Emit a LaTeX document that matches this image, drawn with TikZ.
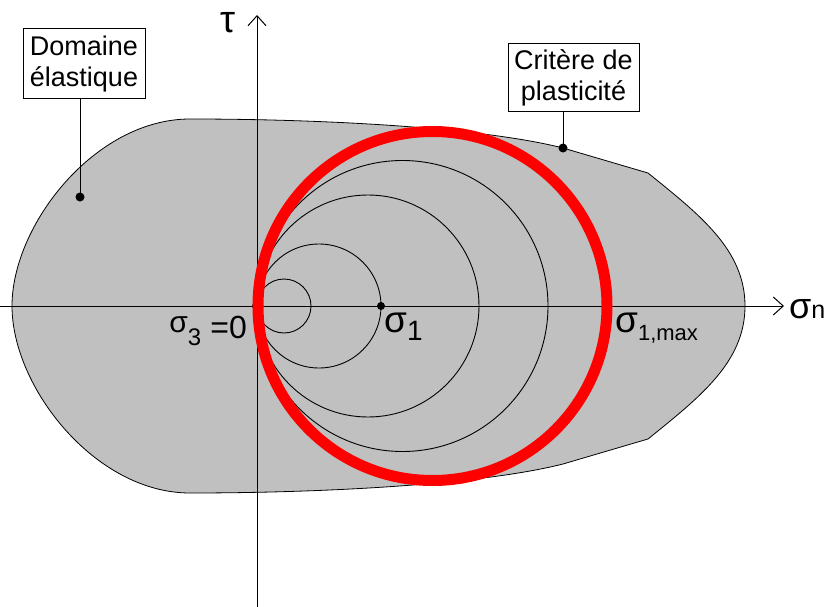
\documentclass[tikz,border=0pt]{standalone}
\usepackage{fontspec}
\setmainfont{Liberation Sans}
\usetikzlibrary{arrows.meta}
\newcommand\myfs[1]{\fontsize{#1}{#1}\selectfont}
\newcommand\sgm[1]{{\myfs{#1}σ}}
\definecolor{zonegray}{RGB}{192,192,192}
\definecolor{critred}{RGB}{255,0,0}
\begin{document}
\begin{tikzpicture}[x=1pt,y=-1pt,
  axis/.style={line width=1pt,-{Straight Barb[length=10pt,width=18pt,line width=1pt]}},
  mohr/.style={line width=0.9pt,black},
  callout/.style={draw,line width=1pt,fill=white,minimum width=122pt,minimum height=70pt,align=center,inner sep=0pt,font=\fontsize{27}{31}\selectfont},
  lab/.style={inner sep=0pt,font=\myfs{29}},
  leader/.style={line width=1pt},
  dotmark/.style={fill=black}]
\useasboundingbox (0,0) rectangle (827,607);
% elastic domain
\filldraw[fill=zonegray,draw=black,line width=0.8pt]
  (12,306) .. controls (12,225) and (95,119) .. (190,119)
  .. controls (320,119) and (480,127) .. (563,148)
  -- (648,173)
  .. controls (700,215) and (745,250) .. (745,306)
  .. controls (745,362) and (700,397) .. (648,439)
  -- (563,464)
  .. controls (480,485) and (320,493) .. (190,493)
  .. controls (95,493) and (12,387) .. (12,306) -- cycle;
% axes
\coordinate (xs) at (0,306);
\coordinate (xe) at (784,306);
\coordinate (ys) at (257,607);
\coordinate (ye) at (257,15);
\coordinate (O) at (257,306);
\draw[axis] (xs) -- (xe);
\draw[axis] (ys) -- (ye);
% Mohr circles
\draw[mohr] (284,306) circle[radius=27];
\draw[mohr] (319,306) circle[radius=62];
\draw[mohr] (368,306) circle[radius=111];
\draw[mohr] (402.5,306) circle[radius=145.5];
\fill[dotmark] (O) circle[radius=5pt];
\draw[critred,line width=11pt] (432.5,306) circle[radius=174.5];
\coordinate (s1p) at (381,306);
\fill[dotmark] (s1p) circle[radius=4pt];
% callouts
\node[callout] (dom) at (84,64) {Domaine\\élastique};
\coordinate (d1) at (80,197);
\draw[leader] (dom.south -| d1) -- (d1);
\fill[dotmark] (d1) circle[radius=4.5pt];
\node[callout,minimum width=131pt,minimum height=68pt] (crit) at (573.5,78) {Critère de\\plasticité};
\coordinate (d2) at (563,148);
\draw[leader] (crit.south -| d2) -- (d2);
\fill[dotmark] (d2) circle[radius=4.5pt];
% labels
\node[lab,anchor=base] (tau) at (228,33) {\myfs{38}τ};
\node[lab,anchor=base west] (sn) at (789,318) {\sgm{36}{\myfs{25}n}};
\node[lab,anchor=base east] (s3) at (247,332) {\sgm{30}\raisebox{-13pt}{\myfs{24}3}\hspace{9pt}\raisebox{-6pt}{\myfs{32}=0}};
\node[lab,anchor=base west] (s1) at (384,332) {\sgm{37}\raisebox{-8pt}{\myfs{28}1}};
\node[lab,anchor=base west] (s1m) at (615,332) {\sgm{37}\raisebox{-8pt}{\myfs{22}1,max}};
\end{tikzpicture}
\end{document}
